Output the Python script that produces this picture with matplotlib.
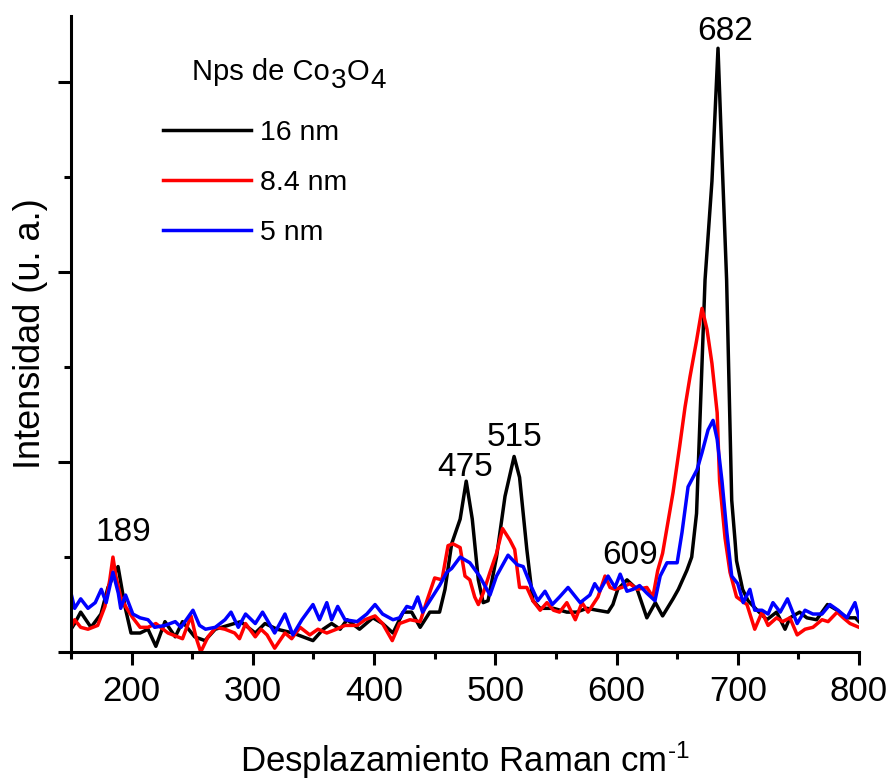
import matplotlib
matplotlib.use("Agg")
import matplotlib.pyplot as plt
from matplotlib.ticker import MultipleLocator, NullFormatter

plt.rcParams['font.family'] = ['Liberation Sans', 'DejaVu Sans']
plt.rcParams['mathtext.fontset'] = 'custom'
plt.rcParams['mathtext.rm'] = 'Liberation Sans'
plt.rcParams['mathtext.it'] = 'Liberation Sans:italic'

# 16 nm (black)
x_16 = [150, 153, 158, 166.5, 174.7, 180.5, 188.8, 194.5, 199.5, 207, 213.5, 220, 227.5, 236, 242,
        252, 260.5, 269, 279.5, 290, 302, 310, 320, 333, 349.6, 358, 365, 372, 377.7, 388, 399,
        407, 415.6, 424, 431, 438, 446, 454, 458.5, 464, 471, 476, 481, 486, 490, 494, 501, 508,
        515.5, 520, 526, 531, 537, 548, 559, 567, 575.6, 584, 593, 597, 601, 608.6, 617, 625,
        632, 638, 646.6, 651, 658, 662, 666, 670, 673, 678.7, 683.7, 687, 690.8, 695, 697.7, 699,
        704, 708.5, 716, 724, 732, 739, 743, 751, 757, 765, 774, 782, 790, 797, 800]
y_16 = [0.12, 0.15, 0.21, 0.13, 0.20, 0.34, 0.45, 0.24, 0.10, 0.10, 0.12, 0.03, 0.16, 0.08, 0.16,
        0.08, 0.06, 0.12, 0.14, 0.16, 0.10, 0.15, 0.12, 0.10, 0.06, 0.12, 0.15, 0.12, 0.17, 0.12, 0.18,
        0.15, 0.10, 0.21, 0.21, 0.13, 0.21, 0.21, 0.33, 0.57, 0.70, 0.90, 0.70, 0.38, 0.26, 0.27, 0.50, 0.82,
        1.03, 0.92, 0.54, 0.27, 0.23, 0.23, 0.21, 0.21, 0.23, 0.22, 0.21, 0.25, 0.33, 0.38, 0.33, 0.18,
        0.26, 0.19, 0.28, 0.33, 0.43, 0.50, 0.73, 1.43, 1.96, 2.48, 3.18, 2.60, 1.96, 0.80, 0.59, 0.48,
        0.33, 0.27, 0.22, 0.17, 0.21, 0.12, 0.18, 0.21, 0.18, 0.17, 0.25, 0.22, 0.18, 0.18, 0.16]

# 8.4 nm (red)
x_84 = [150, 153, 158, 164, 172, 178, 182, 184.6, 187, 191, 195, 201, 207, 213.5, 220, 230, 238, 242,
        249, 253, 257, 263, 269.6, 277, 285, 289, 294, 302, 306.7, 311.7, 318, 326.5, 332, 339, 347,
        353.7, 361, 369, 376, 386, 392.5, 400.8, 407, 415, 421, 429.6, 438, 443.6, 450, 456, 461, 465,
        471, 475, 479, 483, 486, 490, 495.6, 501, 506, 512, 516, 520, 526, 531, 537, 542.6, 548, 553,
        559, 566, 571.5, 576.5, 584.7, 590.5, 594.6, 598.7, 604.5, 611, 617, 625, 630, 634, 638, 646.6,
        652, 656.5, 660.6, 666, 670.5, 674.6, 678.7, 683, 685, 689.5, 693.6, 699, 707.6, 714, 720, 725,
        732, 737, 743, 749, 755.5, 762, 769.5, 774.5, 782, 787, 792.6, 800]
y_84 = [0.13, 0.17, 0.13, 0.12, 0.14, 0.24, 0.38, 0.50, 0.40, 0.29, 0.24, 0.18, 0.13, 0.13, 0.15, 0.10,
        0.08, 0.07, 0.19, 0.08, 0.00, 0.08, 0.13, 0.12, 0.10, 0.07, 0.15, 0.08, 0.12, 0.09, 0.02, 0.10,
        0.07, 0.13, 0.09, 0.12, 0.10, 0.12, 0.14, 0.14, 0.17, 0.19, 0.15, 0.06, 0.15, 0.17, 0.16, 0.27,
        0.39, 0.38, 0.56, 0.57, 0.55, 0.40, 0.38, 0.29, 0.25, 0.31, 0.42, 0.52, 0.65, 0.59, 0.54, 0.34,
        0.34, 0.27, 0.22, 0.26, 0.22, 0.21, 0.26, 0.17, 0.26, 0.21, 0.29, 0.40, 0.34, 0.33, 0.34, 0.36,
        0.33, 0.34, 0.29, 0.43, 0.52, 0.84, 1.08, 1.29, 1.45, 1.64, 1.81, 1.70, 1.52, 1.26, 0.90, 0.60,
        0.42, 0.29, 0.25, 0.12, 0.21, 0.14, 0.18, 0.16, 0.18, 0.09, 0.12, 0.13, 0.17, 0.16, 0.21, 0.18,
        0.15, 0.13]

# 5 nm (blue)
x_5 = [150, 153, 158, 164, 170, 175, 179, 184.6, 189, 191, 195, 201, 207, 213.5, 219, 227.5, 236,
       240.7, 250.6, 256, 261, 269, 277, 282, 288, 294, 302, 308, 311.7, 318, 326.5, 333, 340.5, 349.6,
       355, 361, 365, 370, 376, 386, 394, 400.8, 407, 415.6, 421, 427, 432, 436, 440, 446, 454, 460,
       464, 471, 479, 487, 495.6, 501, 510.5, 518, 523, 530, 535, 541, 547, 553, 560, 570, 578, 582,
       586, 593, 598.7, 603, 608.6, 613.6, 619, 625, 631.7, 636, 641.6, 650, 654, 659, 666.4, 670.5,
       675.5, 679.6, 683, 687, 691, 695, 700, 704.5, 710, 714, 720, 725, 729, 735, 741, 749, 755.5,
       762, 769.5, 776, 782.7, 790, 796.7, 800]
y_5 = [0.31, 0.23, 0.28, 0.23, 0.26, 0.33, 0.26, 0.42, 0.31, 0.23, 0.30, 0.20, 0.18, 0.17, 0.13, 0.14,
       0.16, 0.13, 0.22, 0.14, 0.12, 0.13, 0.17, 0.21, 0.13, 0.20, 0.15, 0.21, 0.17, 0.10, 0.20, 0.09,
       0.17, 0.25, 0.17, 0.26, 0.17, 0.24, 0.17, 0.16, 0.20, 0.25, 0.20, 0.17, 0.18, 0.24, 0.23, 0.29,
       0.21, 0.27, 0.35, 0.42, 0.44, 0.50, 0.47, 0.40, 0.30, 0.40, 0.51, 0.46, 0.45, 0.34, 0.27, 0.32,
       0.25, 0.29, 0.34, 0.26, 0.30, 0.36, 0.32, 0.40, 0.34, 0.41, 0.32, 0.33, 0.35, 0.31, 0.27, 0.40,
       0.47, 0.47, 0.63, 0.87, 0.96, 1.05, 1.17, 1.22, 1.12, 0.90, 0.63, 0.40, 0.36, 0.26, 0.33, 0.22,
       0.22, 0.20, 0.26, 0.21, 0.28, 0.15, 0.22, 0.20, 0.20, 0.25, 0.22, 0.18, 0.26, 0.18]

labels = ["16 nm", "8.4 nm", "5 nm"]
peak_labels = ["189", "475", "515", "609", "682"]
peak_x = [193, 475, 516, 611, 689.5]
peak_y = [0.63, 0.97, 1.13, 0.51, 3.27]

fig = plt.figure(figsize=(8.92, 7.84), dpi=100)
ax = fig.add_axes([71/892, 1-652/784, (859-71)/892, (652-16)/784])

lw = 2.5
ax.plot(x_16, y_16, color='black', lw=lw, label=labels[0])
ax.plot(x_84, y_84, color='red', lw=lw, label=labels[1])
ax.plot(x_5, y_5, color='blue', lw=lw, label=labels[2])

for t, px, py in zip(peak_labels, peak_x, peak_y):
    ax.text(px, py, t, fontsize=24, ha='center', va='center')

ax.set_xlim(150, 800)
ax.set_ylim(0, 3.35)
ax.xaxis.set_major_locator(MultipleLocator(100))
ax.xaxis.set_minor_locator(MultipleLocator(50))
ax.yaxis.set_major_locator(MultipleLocator(1))
ax.yaxis.set_minor_locator(MultipleLocator(0.5))
ax.yaxis.set_major_formatter(NullFormatter())

for s in ['top', 'right']:
    ax.spines[s].set_visible(False)
for s in ['left', 'bottom']:
    ax.spines[s].set_linewidth(2.2)

ax.tick_params(which='major', direction='out', length=9.5, width=2.2, labelsize=25, pad=7)
ax.tick_params(which='minor', direction='out', length=5, width=2.2)

ax.set_xlabel("Desplazamiento Raman cm$^{\\text{-1}}$", fontsize=25, labelpad=23)
ax.set_ylabel("Intensidad (u. a.)", fontsize=26, labelpad=0)

leg = ax.legend(loc='upper left', bbox_to_anchor=(163/892, 1-120/784), bbox_transform=fig.transFigure,
                frameon=False, fontsize=20.5, handlelength=3.1, handletextpad=0.3,
                labelspacing=0.85, borderpad=0, borderaxespad=0)

# legend title with Origin-style large subscripts
yb = 1 - 80/784
t0 = fig.text(192/892, yb, "Nps de Co", fontsize=21, ha='left', va='baseline')
t1 = ax.annotate("3", xy=(1, yb), xycoords=(t0, 'figure fraction'), xytext=(0.5, -6),
                 textcoords='offset points', fontsize=20, ha='left', va='baseline')
t2 = ax.annotate("O", xy=(1, yb), xycoords=(t1, 'figure fraction'), xytext=(0.5, 0),
                 textcoords='offset points', fontsize=21, ha='left', va='baseline')
t3 = ax.annotate("4", xy=(1, yb), xycoords=(t2, 'figure fraction'), xytext=(0.5, -6),
                 textcoords='offset points', fontsize=20, ha='left', va='baseline')

fig.savefig("out.png", dpi=100)
